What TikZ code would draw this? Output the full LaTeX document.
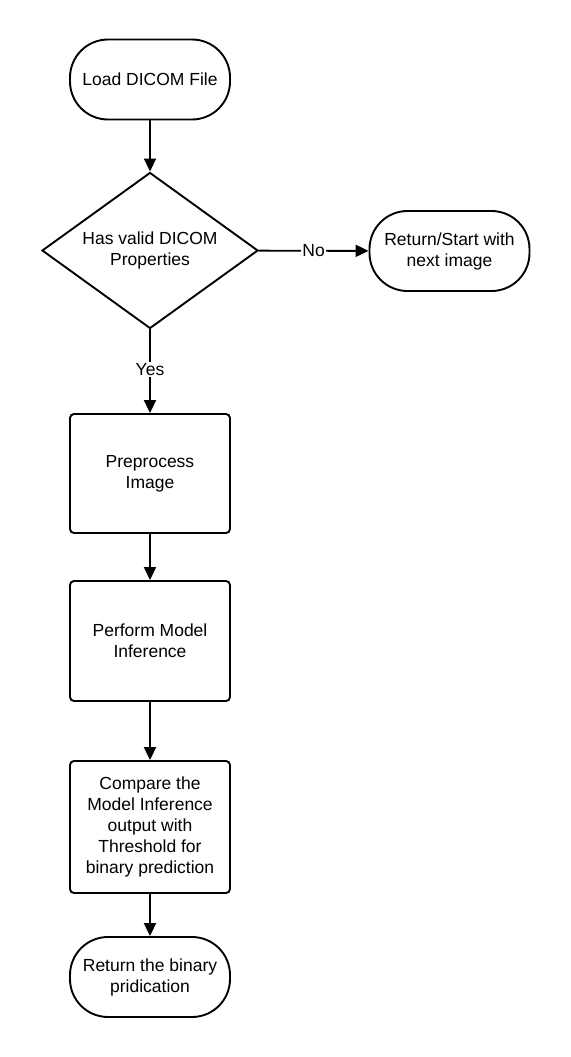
\documentclass[tikz,border=0pt]{standalone}
\usepackage{fontspec}
\setmainfont{Liberation Sans}
\usetikzlibrary{shapes.geometric,arrows.meta}
\begin{document}
\begin{tikzpicture}[x=1pt,y=-1pt,
  base/.style={draw=black, line width=1.9pt, align=center, inner sep=0pt,
    font=\fontsize{17.5}{21}\selectfont, text=black},
  terminal/.style={base, rectangle, rounded corners=38pt, minimum width=160pt, minimum height=80pt},
  procbox/.style={base, rectangle, rounded corners=4pt, minimum width=160pt},
  decision/.style={base, diamond, aspect=1.385, minimum width=216pt, minimum height=156pt},
  flow/.style={draw=black, line width=1.9pt, -{Triangle[length=13pt,width=12pt]}},
  lbl/.style={fill=white, inner sep=1pt, font=\fontsize{17.5}{21}\selectfont}
]
\useasboundingbox (0,0) rectangle (570,1057);
\node[terminal] (load) at (150,79.5) {Load DICOM File};
\node[decision] (valid) at (150,250.5) {Has valid DICOM\\Properties};
\node[terminal] (next) at (449.5,251) {Return/Start with\\next image};
\node[procbox, minimum height=119pt] (pre) at (150,473.5) {Preprocess\\Image};
\node[procbox, minimum height=120pt] (perf) at (150,641) {Perform Model\\Inference};
\node[procbox, minimum height=132pt] (cmp) at (150,827) {Compare the\\Model Inference\\output with\\Threshold for\\binary prediction};
\node[terminal] (ret) at (150,977) {Return the binary\\pridication};
\draw[flow] (load) -- (valid);
\draw[flow] (valid) -- node[lbl, pos=0.5] (no) {No} (next);
\draw[flow] (valid) -- node[lbl, pos=0.48] (yes) {Yes} (pre);
\draw[flow] (pre) -- (perf);
\draw[flow] (perf) -- (cmp);
\draw[flow] (cmp) -- (ret);
\end{tikzpicture}
\end{document}
